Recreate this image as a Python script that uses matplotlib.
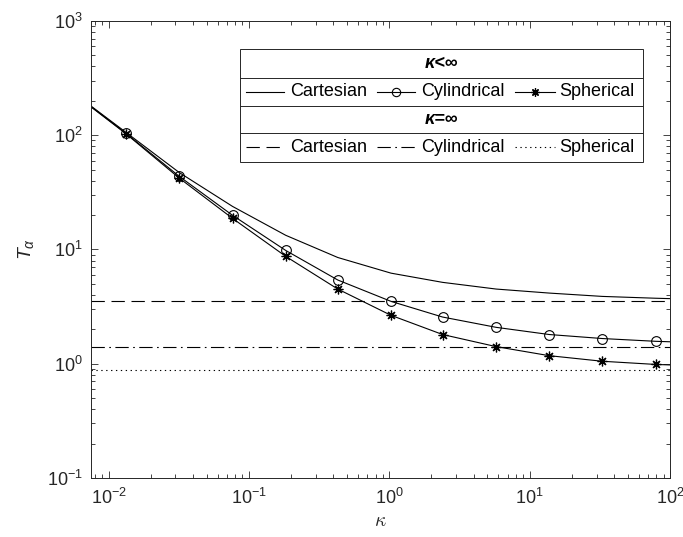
import numpy as np
import matplotlib.pyplot as plt
from matplotlib.patches import Rectangle
from matplotlib.ticker import LogLocator, NullFormatter

plt.rcParams['font.family'] = ['Liberation Sans', 'DejaVu Sans']
plt.rcParams['mathtext.fontset'] = 'custom'
plt.rcParams['mathtext.rm'] = 'Liberation Sans'
plt.rcParams['mathtext.it'] = 'Liberation Sans:italic'
plt.rcParams['axes.unicode_minus'] = False

# kappa grid (first/last point = curve ends, no marker)
kappa = [0.0075, 0.0133, 0.032, 0.0765, 0.183, 0.43, 1.03, 2.4, 5.78, 13.8, 33, 79, 100]
t_cart = [180, 106, 47, 23.8, 13.3, 8.5, 6.2, 5.15, 4.5, 4.15, 3.88, 3.74, 3.71]
t_cyl = [178, 104, 43.5, 19.9, 9.8, 5.4, 3.51, 2.56, 2.08, 1.80, 1.66, 1.57, 1.555]
t_sph = [177, 103, 42, 18.7, 8.7, 4.5, 2.65, 1.80, 1.41, 1.175, 1.05, 0.985, 0.975]

# kappa = infinity limits
t_inf = [3.51, 1.41, 0.886]

labels = ['Cartesian', 'Cylindrical', 'Spherical']
finite_style = [dict(ls='-', marker='None'),
                dict(ls='-', marker='o', ms=7, mfc='none', mew=0.8),
                dict(ls='-', marker=(8, 2, 0), ms=7, mew=0.9)]
inf_style = [dict(ls=(0, (12, 6))),
             dict(ls=(0, (12, 4, 1.5, 4))),
             dict(ls=(0, (1.2, 3.2)))]

lw = 0.8
axcol = '0.15'

fig = plt.figure(figsize=(6.83, 5.37), dpi=100)
ax = fig.add_axes([0.1332, 0.110, 0.8477, 0.851])

for y, st in zip([t_cart, t_cyl, t_sph], finite_style):
    ax.plot(kappa, y, color='k', lw=lw, markevery=slice(1, -1), **st)
for v, st in zip(t_inf, inf_style):
    ax.axhline(v, color='k', lw=lw, **st)

ax.set_xscale('log')
ax.set_yscale('log')
ax.set_xlim(0.0075, 100)
ax.set_ylim(0.1, 1000)
ax.xaxis.set_minor_locator(LogLocator(base=10, subs=np.arange(2, 10), numticks=20))
ax.yaxis.set_minor_locator(LogLocator(base=10, subs=np.arange(2, 10), numticks=20))
ax.xaxis.set_minor_formatter(NullFormatter())
ax.yaxis.set_minor_formatter(NullFormatter())
ax.tick_params(which='both', direction='in', top=True, right=True, color=axcol,
               labelcolor=axcol, labelsize=13, width=0.6)
ax.tick_params(which='major', length=5)
ax.tick_params(which='minor', length=3)
ax.tick_params(axis='x', pad=7)
ax.tick_params(axis='y', pad=6)
for s in ax.spines.values():
    s.set_color(axcol)
    s.set_linewidth(0.7)

ax.set_xlabel(r'$\kappa$', fontsize=14, color=axcol, math_fontfamily='cm', labelpad=4)
ax.set_ylabel(r'$T_\alpha$', fontsize=14, color=axcol)
ax.yaxis.set_label_coords(-0.095, 0.5)

# legend box drawn as a table in axes coordinates
x0, x1 = 0.2573, 0.9534
rows = [0.9387, 0.876, 0.814, 0.7543, 0.6921]
ax.add_patch(Rectangle((x0, rows[-1]), x1 - x0, rows[0] - rows[-1], transform=ax.transAxes,
                       fc='white', ec=axcol, lw=0.7, zorder=5))
for r in rows[1:-1]:
    ax.plot([x0, x1], [r, r], transform=ax.transAxes, color=axcol, lw=0.7, zorder=6)

xc = (x0 + x1) / 2
ax.text(xc, (rows[0] + rows[1]) / 2, 'κ<∞', transform=ax.transAxes, ha='center',
        va='center', fontsize=13, fontweight='bold', fontstyle='italic', zorder=7)
ax.text(xc, (rows[2] + rows[3]) / 2, 'κ=∞', transform=ax.transAxes, ha='center',
        va='center', fontsize=13, fontweight='bold', fontstyle='italic', zorder=7)

samples = [(0.267, 0.334, 0.3437), (0.4933, 0.5596, 0.570), (0.7323, 0.8014, 0.8088)]
y_fin = (rows[1] + rows[2]) / 2
y_inf = (rows[3] + rows[4]) / 2
for (sa, sb, tx), lab, fs, ist in zip(samples, labels, finite_style, inf_style):
    ax.plot([sa, sb], [y_fin, y_fin], transform=ax.transAxes, color='k', lw=lw, zorder=7,
            ls='-')
    if fs['marker'] != 'None':
        mk = {k: v for k, v in fs.items() if k != 'ls'}
        mk['ms'] = 6
        ax.plot([(sa + sb) / 2], [y_fin], transform=ax.transAxes, color='k', zorder=7,
                ls='none', **mk)
    ax.text(tx, y_fin, lab, transform=ax.transAxes, va='center', fontsize=13, zorder=7)
    ax.plot([sa, sb], [y_inf, y_inf], transform=ax.transAxes, color='k', lw=lw, zorder=7,
            **ist)
    ax.text(tx, y_inf, lab, transform=ax.transAxes, va='center', fontsize=13, zorder=7)

fig.savefig('out.png', dpi=100)
